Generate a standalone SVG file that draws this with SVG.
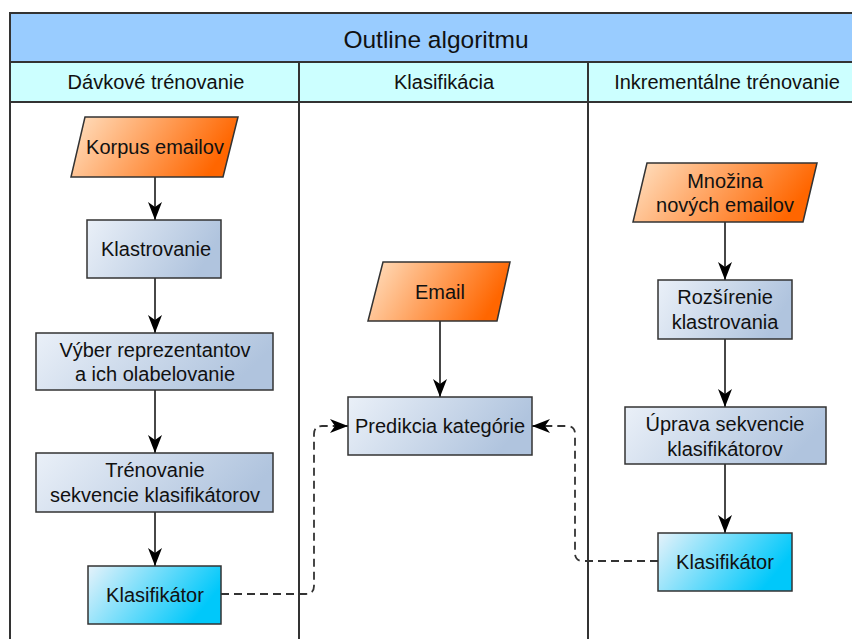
<svg xmlns="http://www.w3.org/2000/svg" width="852" height="639" viewBox="0 0 852 639">
  <defs>
    <linearGradient id="gOrange" x1="0" y1="0" x2="1" y2="0.25">
      <stop offset="0" stop-color="#ffe2c4"/>
      <stop offset="1" stop-color="#ff6600"/>
    </linearGradient>
    <linearGradient id="gSteel" x1="0" y1="0" x2="1" y2="0.25">
      <stop offset="0" stop-color="#eaf0f8"/>
      <stop offset="1" stop-color="#b0c4de"/>
    </linearGradient>
    <linearGradient id="gCyan" x1="0" y1="0" x2="1" y2="0.35">
      <stop offset="0" stop-color="#e6f2fa"/>
      <stop offset="1" stop-color="#00c8fa"/>
    </linearGradient>
    <marker id="arrow" markerUnits="userSpaceOnUse" markerWidth="20" markerHeight="16" refX="18" refY="7" orient="auto">
      <path d="M0,0 L18,7 L0,14 L5,7 Z" fill="#000"/>
    </marker>
  </defs>
  <style>
    .frame { fill: none; stroke: #333; stroke-width: 2; }
    .title { fill: #99ccff; }
    .head { fill: #ccffff; }
    .lane { stroke: #333; stroke-width: 2; }
    .node { stroke: #333; stroke-width: 1.5; }
    .io { fill: url(#gOrange); }
    .proc { fill: url(#gSteel); }
    .out { fill: url(#gCyan); }
    text { font-family: "Liberation Sans", Arial, sans-serif; fill: #111; text-anchor: middle; }
    .t-title { font-size: 24.5px; }
    .t-head { font-size: 20px; }
    .t-node { font-size: 20px; }
    .flow { fill: none; stroke: #333; stroke-width: 1.8; marker-end: url(#arrow); }
    .dash { stroke-dasharray: 8 5; }
  </style>

  <rect width="852" height="639" fill="#fff"/>

  <!-- swimlane pool -->
  <g id="pool">
    <rect class="title" x="10" y="13" width="856" height="49"/>
    <rect class="head" x="10" y="62" width="856" height="40"/>
    <line class="lane" x1="10" y1="62" x2="866" y2="62"/>
    <line class="lane" x1="10" y1="102" x2="866" y2="102"/>
    <line class="lane" x1="299" y1="62" x2="299" y2="645"/>
    <line class="lane" x1="588" y1="62" x2="588" y2="645"/>
    <rect class="frame" x="10" y="13" width="856" height="640"/>
    <text class="t-title" x="436" y="48">Outline algoritmu</text>
    <text class="t-head" x="156" y="89">Dávkové trénovanie</text>
    <text class="t-head" x="444" y="89">Klasifikácia</text>
    <text class="t-head" x="727" y="89">Inkrementálne trénovanie</text>
  </g>

  <!-- connectors -->
  <g id="connectors">
    <path class="flow" d="M155,177 V220"/>
    <path class="flow" d="M155,278 V333"/>
    <path class="flow" d="M155,390 V453"/>
    <path class="flow" d="M155,512 V566"/>
    <path class="flow" d="M440,321 V397"/>
    <path class="flow" d="M725,222 V280"/>
    <path class="flow" d="M725,339 V407"/>
    <path class="flow" d="M725,464 V533"/>
    <path class="flow dash" d="M221,594 H306 Q314,594 314,586 V434 Q314,426 322,426 H348"/>
    <path class="flow dash" d="M658,561 H583 Q575,561 575,553 V434 Q575,426 567,426 H532"/>
  </g>

  <!-- batch training lane -->
  <g id="korpus">
    <polygon class="node io" points="85,117 238,117 223,177 71,177"/>
    <text class="t-node" x="155" y="154">Korpus emailov</text>
  </g>
  <g id="klastrovanie">
    <rect class="node proc" x="87" y="220" width="134" height="58"/>
    <text class="t-node" x="156" y="256">Klastrovanie</text>
  </g>
  <g id="vyber">
    <rect class="node proc" x="36" y="333" width="237" height="57"/>
    <text class="t-node" x="155" y="357">Výber reprezentantov</text>
    <text class="t-node" x="155" y="381">a ich olabelovanie</text>
  </g>
  <g id="trenovanie">
    <rect class="node proc" x="36" y="453" width="237" height="59"/>
    <text class="t-node" x="155" y="477">Trénovanie</text>
    <text class="t-node" x="155" y="502">sekvencie klasifikátorov</text>
  </g>
  <g id="klasifikator-batch">
    <rect class="node out" x="88" y="566" width="133" height="58"/>
    <text class="t-node" x="155" y="602">Klasifikátor</text>
  </g>

  <!-- classification lane -->
  <g id="email">
    <polygon class="node io" points="383,262 510,262 497,321 368,321"/>
    <text class="t-node" x="440" y="299">Email</text>
  </g>
  <g id="predikcia">
    <rect class="node proc" x="348" y="397" width="184" height="58"/>
    <text class="t-node" x="440" y="433">Predikcia kategórie</text>
  </g>

  <!-- incremental training lane -->
  <g id="mnozina">
    <polygon class="node io" points="647,163 817,163 803,222 633,222"/>
    <text class="t-node" x="725" y="188">Množina</text>
    <text class="t-node" x="725" y="212">nových emailov</text>
  </g>
  <g id="rozsirenie">
    <rect class="node proc" x="658" y="280" width="134" height="59"/>
    <text class="t-node" x="725" y="304">Rozšírenie</text>
    <text class="t-node" x="725" y="329">klastrovania</text>
  </g>
  <g id="uprava">
    <rect class="node proc" x="625" y="407" width="201" height="57"/>
    <text class="t-node" x="725" y="431">Úprava sekvencie</text>
    <text class="t-node" x="725" y="456">klasifikátorov</text>
  </g>
  <g id="klasifikator-inc">
    <rect class="node out" x="658" y="533" width="134" height="58"/>
    <text class="t-node" x="725" y="569">Klasifikátor</text>
  </g>
</svg>
